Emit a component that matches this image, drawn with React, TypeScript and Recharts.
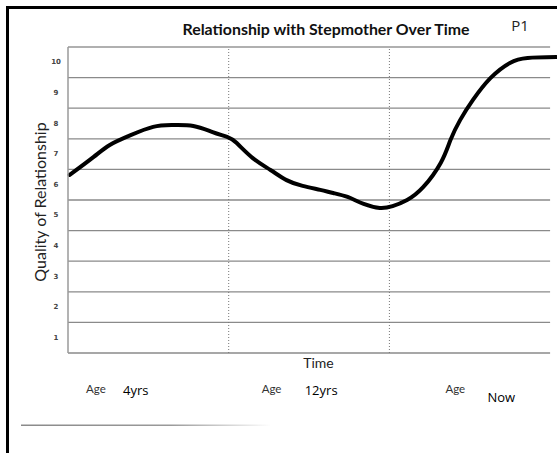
import { LineChart, Line, XAxis, YAxis, ReferenceLine, Label } from 'recharts'

// time runs 0..3, one unit per age section; quality is the 1-10 rating
const TIME = [
  0.01, 0.16, 0.26, 0.39, 0.53, 0.65, 0.78, 0.9, 0.99, 1.05, 1.15, 1.26, 1.36, 1.46, 1.57,
  1.65, 1.74, 1.84, 1.94, 2.02, 2.11, 2.21, 2.32, 2.38, 2.44, 2.52, 2.63, 2.75, 2.86, 3.04,
]
const QUALITY = [
  6.32, 6.91, 7.3, 7.62, 7.89, 7.95, 7.92, 7.72, 7.56, 7.36, 6.87, 6.48, 6.15, 5.96, 5.83,
  5.73, 5.6, 5.37, 5.24, 5.3, 5.5, 5.92, 6.72, 7.46, 8.11, 8.77, 9.49, 9.98, 10.14, 10.17,
]
const Y_TICKS = [1, 2, 3, 4, 5, 6, 7, 8, 9, 10]
const ROW_LINES = [0.5, 1.5, 2.5, 3.5, 4.5, 5.5, 6.5, 7.5, 8.5, 9.5, 10.5]
const SECTION_STARTS = [0, 1, 2]
const SECTION_BREAKS = [1, 2]
const AGE_LABELS = ['4yrs', '12yrs', 'Now']

const data = TIME.map((t, i) => ({ t, q: QUALITY[i] }))

const FONT = 'Lato, "Open Sans", sans-serif'
const HAND = '"Open Sans", sans-serif'

function YTick({ y, payload }: any) {
  return (
    <text x={56} y={y} textAnchor="middle" dominantBaseline="central" fontSize={7} fontWeight={700} fill="#444" fontFamily='"DejaVu Sans", sans-serif'>
      {payload.value}
    </text>
  )
}

// hand-filled age labels sit at slightly different spots in each section
const AGE_DX = [18, 33, 56]
const VALUE_DX = [55, 76, 98]
const VALUE_DY = [37, 37, 44]

function XTick({ x, y, index }: any) {
  return (
    <g>
      <text x={x + AGE_DX[index]} y={y + 35} dominantBaseline="central" fontSize={11.5} fill="#333" fontFamily={FONT}>
        Age
      </text>
      <text x={x + VALUE_DX[index]} y={y + VALUE_DY[index]} dominantBaseline="central" fontSize={13} fill="#000" fontFamily={HAND}>
        {AGE_LABELS[index]}
      </text>
    </g>
  )
}

export default function App() {
  return (
    <div style={{ position: 'absolute', left: 0, top: 0, width: 557, height: 453, background: '#fff', overflow: 'hidden' }}>
      <LineChart width={557} height={453} data={data} margin={{ top: 47, right: 0, bottom: 0, left: 0 }}>
        <XAxis
          type="number"
          dataKey="t"
          domain={[0, 3.043]}
          ticks={SECTION_STARTS}
          interval={0}
          height={100}
          axisLine={false}
          tickLine={false}
          tickSize={0}
          tickMargin={0}
          tick={<XTick />}
        >
          <Label value="Time" position="insideTop" offset={5} dx={6} fontSize={14} fill="#222" fontFamily={FONT} />
        </XAxis>
        <YAxis
          type="number"
          domain={[0.5, 10.5]}
          ticks={Y_TICKS}
          width={68}
          tickLine={false}
          tickSize={0}
          axisLine={{ stroke: '#9a9a9a', strokeWidth: 1.5 }}
          tick={<YTick />}
        >
          <Label value="Quality of Relationship" angle={-90} position="center" dx={6} dy={2} fontSize={16} fill="#222" fontFamily={FONT} />
        </YAxis>
        {ROW_LINES.map((v) => (
          <ReferenceLine
            key={v}
            segment={[{ x: 0, y: v }, { x: 3, y: v }]}
            stroke={v === 10.5 ? '#b0b0b0' : '#8a8a8a'}
            strokeWidth={v === 10.5 ? 2 : 1.3}
          />
        ))}
        {SECTION_BREAKS.map((v) => (
          <ReferenceLine key={v} x={v} stroke="#777" strokeDasharray="1 2" strokeWidth={1} />
        ))}
        <Line
          type="natural"
          dataKey="q"
          stroke="#000"
          strokeWidth={4}
          dot={false}
          strokeLinecap="round"
          isAnimationActive={false}
        />
      </LineChart>
      <svg width={557} height={453} style={{ position: 'absolute', left: 0, top: 0, pointerEvents: 'none' }}>
        <defs>
          <linearGradient id="fade" x1="0" x2="1" y1="0" y2="0">
            <stop offset="0%" stopColor="#8a8a8a" />
            <stop offset="60%" stopColor="#9a9a9a" />
            <stop offset="100%" stopColor="#ffffff" />
          </linearGradient>
        </defs>
        <rect x={6} y={6} width={3} height={447} fill="#000" />
        <rect x={6} y={6} width={551} height={3} fill="#000" />
        <text x={326} y={29} textAnchor="middle" dominantBaseline="central" fontSize={15.5} fontWeight={700} fill="#111" fontFamily={FONT} textLength={287} lengthAdjust="spacingAndGlyphs">
          Relationship with Stepmother Over Time
        </text>
        <text x={520} y={25} textAnchor="middle" dominantBaseline="central" fontSize={15} fill="#222" fontFamily={HAND}>
          P1
        </text>
        <rect x={21} y={424.5} width={250} height={1.5} fill="url(#fade)" />
      </svg>
    </div>
  )
}
